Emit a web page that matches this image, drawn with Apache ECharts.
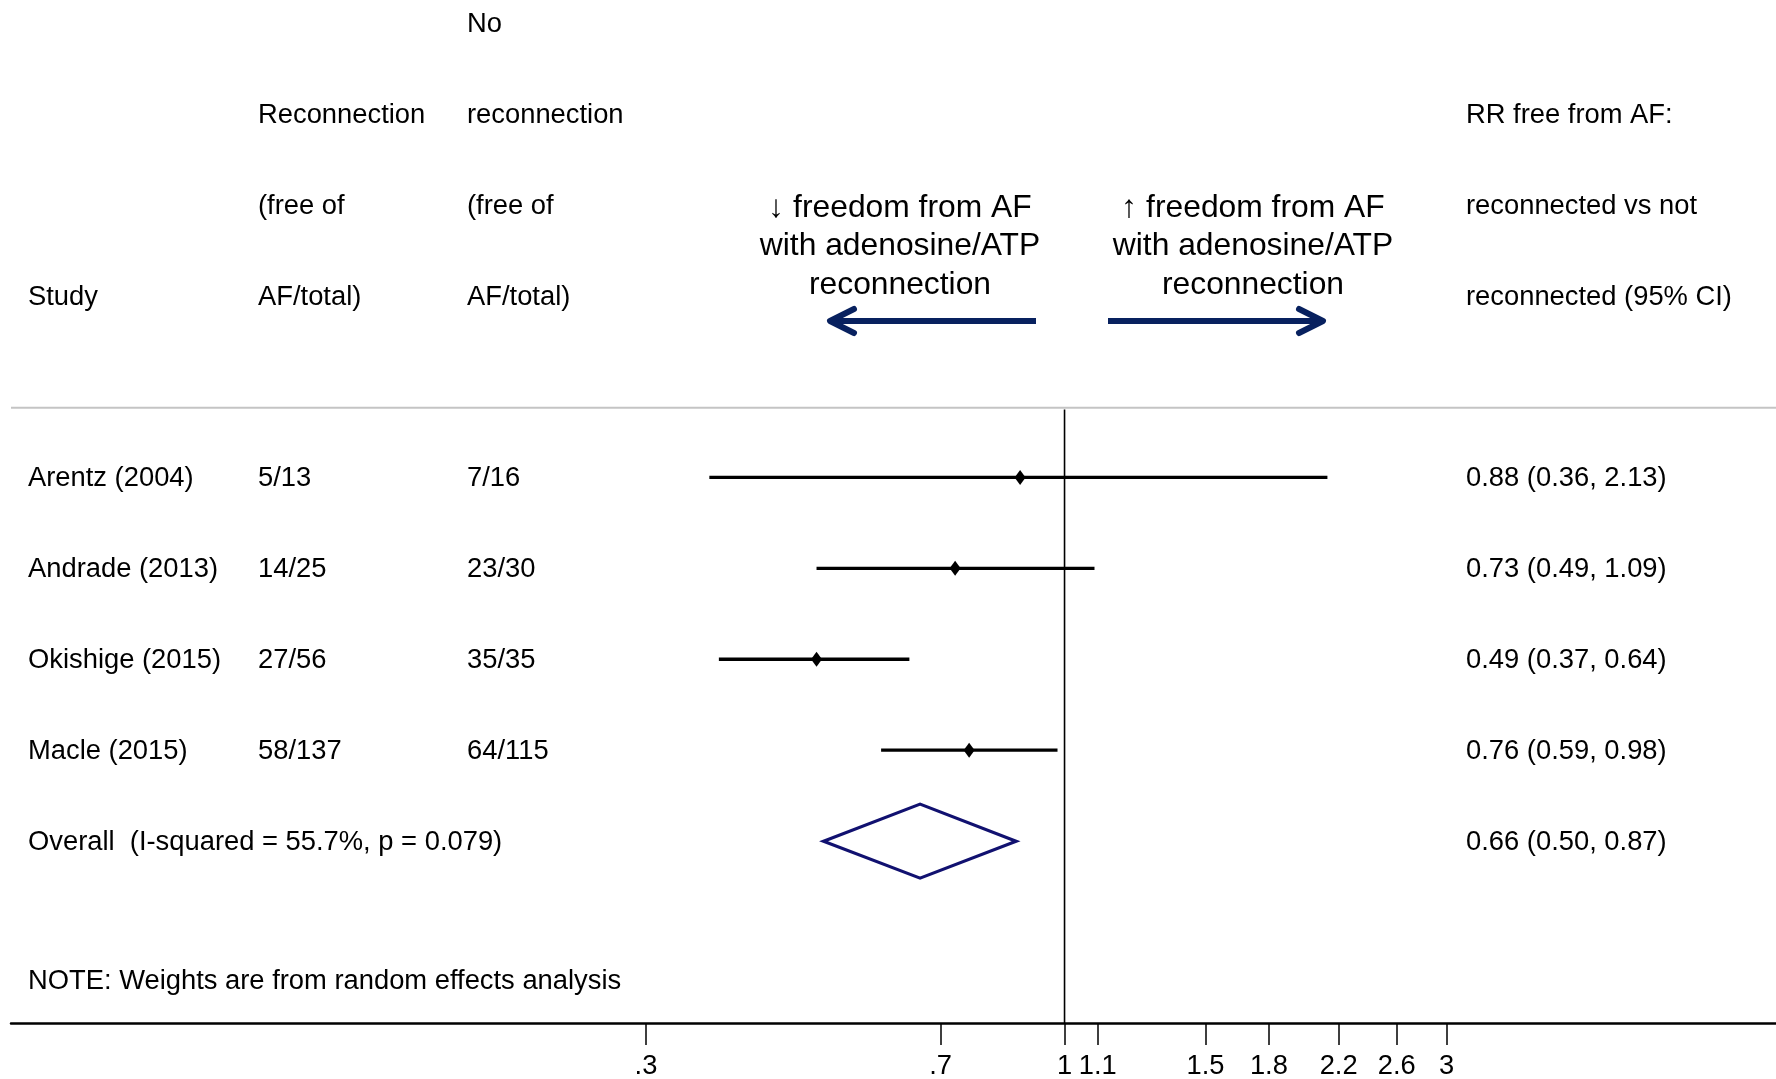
<!DOCTYPE html>
<html><head><meta charset="utf-8">
<script src="https://cdn.jsdelivr.net/npm/echarts@6/dist/echarts.min.js"></script>
<style>html,body{margin:0;padding:0;background:#fff}#c{width:1776px;height:1079px}</style>
</head><body><div id="c"></div>
<script>
// ---- data ----
const studies = ['Arentz (2004)', 'Andrade (2013)', 'Okishige (2015)', 'Macle (2015)'];
const reconnection = ['5/13', '14/25', '27/56', '58/137'];
const noReconnection = ['7/16', '23/30', '35/35', '64/115'];
const rr = [0.88, 0.73, 0.49, 0.76];
const rrLow = [0.36, 0.49, 0.37, 0.59];
const rrHigh = [2.13, 1.09, 0.64, 0.98];
const overallLabel = 'Overall  (I-squared = 55.7%, p = 0.079)';
const overallRR = 0.66, overallLow = 0.50, overallHigh = 0.87;
const tickValues = [0.3, 0.7, 1, 1.1, 1.5, 1.8, 2.2, 2.6, 3];
const tickLabels = ['.3', '.7', '1', '1.1', '1.5', '1.8', '2.2', '2.6', '3'];
const headStudy = ['', '', '', 'Study'];
const headRecon = ['', 'Reconnection', '(free of', 'AF/total)'];
const headNoRecon = ['No', 'reconnection', '(free of', 'AF/total)'];
const headRR = ['', 'RR free from AF:', 'reconnected vs not', 'reconnected (95% CI)'];
const leftArrowText = ['\u2193 freedom from AF', 'with adenosine/ATP', 'reconnection'];
const rightArrowText = ['\u2191 freedom from AF', 'with adenosine/ATP', 'reconnection'];
const noteText = 'NOTE: Weights are from random effects analysis';

// ---- layout ----
const FONT = '"Liberation Sans", Arial, Helvetica, sans-serif';
const X_MIN = 0.0483, X_MAX = 7.74;
const studyRows = [5, 6, 7, 8], overallRow = 9, noteRow = 10.525, sepRow = 4.234;
const fmt = v => v.toFixed(2);

const chart = echarts.init(document.getElementById('c'), null, {renderer: 'canvas'});
const option = {
  animation: false,
  backgroundColor: '#fff',
  grid: {left: 11, right: 0, top: 0, bottom: 56, containLabel: false, outerBoundsMode: 'none'},
  xAxis: {
    type: 'log', min: X_MIN, max: X_MAX,
    axisLine: {show: true, onZero: false, lineStyle: {color: '#000', width: 2.5}},
    axisTick: {show: true, length: 22, lineStyle: {color: '#000', width: 1.5}, customValues: tickValues},
    axisLabel: {
      customValues: tickValues, fontSize: 27.3, color: '#000', fontFamily: FONT, margin: 30,
      formatter: v => {
        let bi = 0;
        tickValues.forEach((t, i) => { if (Math.abs(t - v) < Math.abs(tickValues[bi] - v)) bi = i; });
        return tickLabels[bi];
      }
    },
    splitLine: {show: false}, minorTick: {show: false}
  },
  yAxis: {type: 'value', inverse: true, min: -0.25, max: 11, show: false},
  series: [
    {
      type: 'line', silent: true, symbol: 'none',
      data: [[X_MIN, sepRow], [X_MAX, sepRow]],
      lineStyle: {color: '#c4c4c4', width: 2}
    },
    {
      type: 'line', silent: true, symbol: 'none',
      data: [[1, sepRow + 0.02], [1, 11]],
      lineStyle: {color: '#000', width: 1.6}
    },
    {
      type: 'custom', silent: true,
      encode: {x: [0, 1, 2], y: 3},
      data: studies.map((s, i) => [rr[i], rrLow[i], rrHigh[i], studyRows[i]]),
      renderItem: (params, api) => {
        const y = api.value(3);
        const p = api.coord([api.value(0), y]);
        const l = api.coord([api.value(1), y]);
        const h = api.coord([api.value(2), y]);
        return {type: 'group', children: [
          {type: 'line', shape: {x1: l[0], y1: l[1], x2: h[0], y2: h[1]}, style: {stroke: '#000', lineWidth: 3.3}},
          {type: 'polygon', shape: {points: [[p[0] - 5.5, p[1]], [p[0], p[1] - 7.5], [p[0] + 5.5, p[1]], [p[0], p[1] + 7.5]]}, style: {fill: '#000'}}
        ]};
      }
    },
    {
      type: 'custom', silent: true,
      encode: {x: [0, 1, 2], y: 3},
      data: [[overallRR, overallLow, overallHigh, overallRow]],
      renderItem: (params, api) => {
        const y = api.value(3), e = api.value(0);
        const pts = [
          api.coord([api.value(1), y]), api.coord([e, y - 0.407]),
          api.coord([api.value(2), y]), api.coord([e, y + 0.407])
        ];
        return {type: 'polygon', shape: {points: pts}, style: {fill: 'none', stroke: '#111170', lineWidth: 3.2, lineJoin: 'miter'}};
      }
    }
  ]
};
chart.setOption(option);

// ---- texts placed on the y scale ----
const TEXT_DY = 1.5;
const yPx = k => chart.convertToPixel({yAxisIndex: 0}, k) + TEXT_DY;
const g = [];
const txt = (x, k, s) => {
  if (!s) return;
  g.push({type: 'text', x: x, y: yPx(k), silent: true,
    style: {text: s, fill: '#000', font: '27.35px ' + FONT, textAlign: 'left', textVerticalAlign: 'middle'}});
};
for (let k = 0; k < 4; k++) {
  txt(28, k, headStudy[k]); txt(258, k, headRecon[k]); txt(467, k, headNoRecon[k]); txt(1466, k, headRR[k]);
}
studies.forEach((s, i) => {
  const k = studyRows[i];
  txt(28, k, s); txt(258, k, reconnection[i]); txt(467, k, noReconnection[i]);
  txt(1466, k, fmt(rr[i]) + ' (' + fmt(rrLow[i]) + ', ' + fmt(rrHigh[i]) + ')');
});
txt(28, overallRow, overallLabel);
txt(1466, overallRow, fmt(overallRR) + ' (' + fmt(overallLow) + ', ' + fmt(overallHigh) + ')');
txt(28, noteRow, noteText);

// arrow annotations
const arrowY = 321, arrowColor = '#08215f';
[leftArrowText, rightArrowText].forEach((lines, j) => {
  const cx = j === 0 ? 900 : 1253;
  lines.forEach((s, i) => {
    g.push({type: 'text', x: cx, y: 208 + i * 38.5, silent: true,
      style: {text: s, fill: '#000', font: '31.8px ' + FONT, textAlign: 'center', textVerticalAlign: 'middle'}});
  });
});
const arrowStyle = {stroke: arrowColor, lineWidth: 6, lineCap: 'round', lineJoin: 'round', fill: null};
g.push({type: 'polyline', silent: true, shape: {points: [[1036, arrowY], [830, arrowY]]}, style: Object.assign({}, arrowStyle, {lineCap: 'butt'})});
g.push({type: 'polyline', silent: true, shape: {points: [[854, arrowY - 12], [830, arrowY], [854, arrowY + 12]]}, style: arrowStyle});
g.push({type: 'polyline', silent: true, shape: {points: [[1108, arrowY], [1323, arrowY]]}, style: Object.assign({}, arrowStyle, {lineCap: 'butt'})});
g.push({type: 'polyline', silent: true, shape: {points: [[1299, arrowY - 12], [1323, arrowY], [1299, arrowY + 12]]}, style: arrowStyle});

chart.setOption({graphic: {elements: g}});
</script>
</body></html>
